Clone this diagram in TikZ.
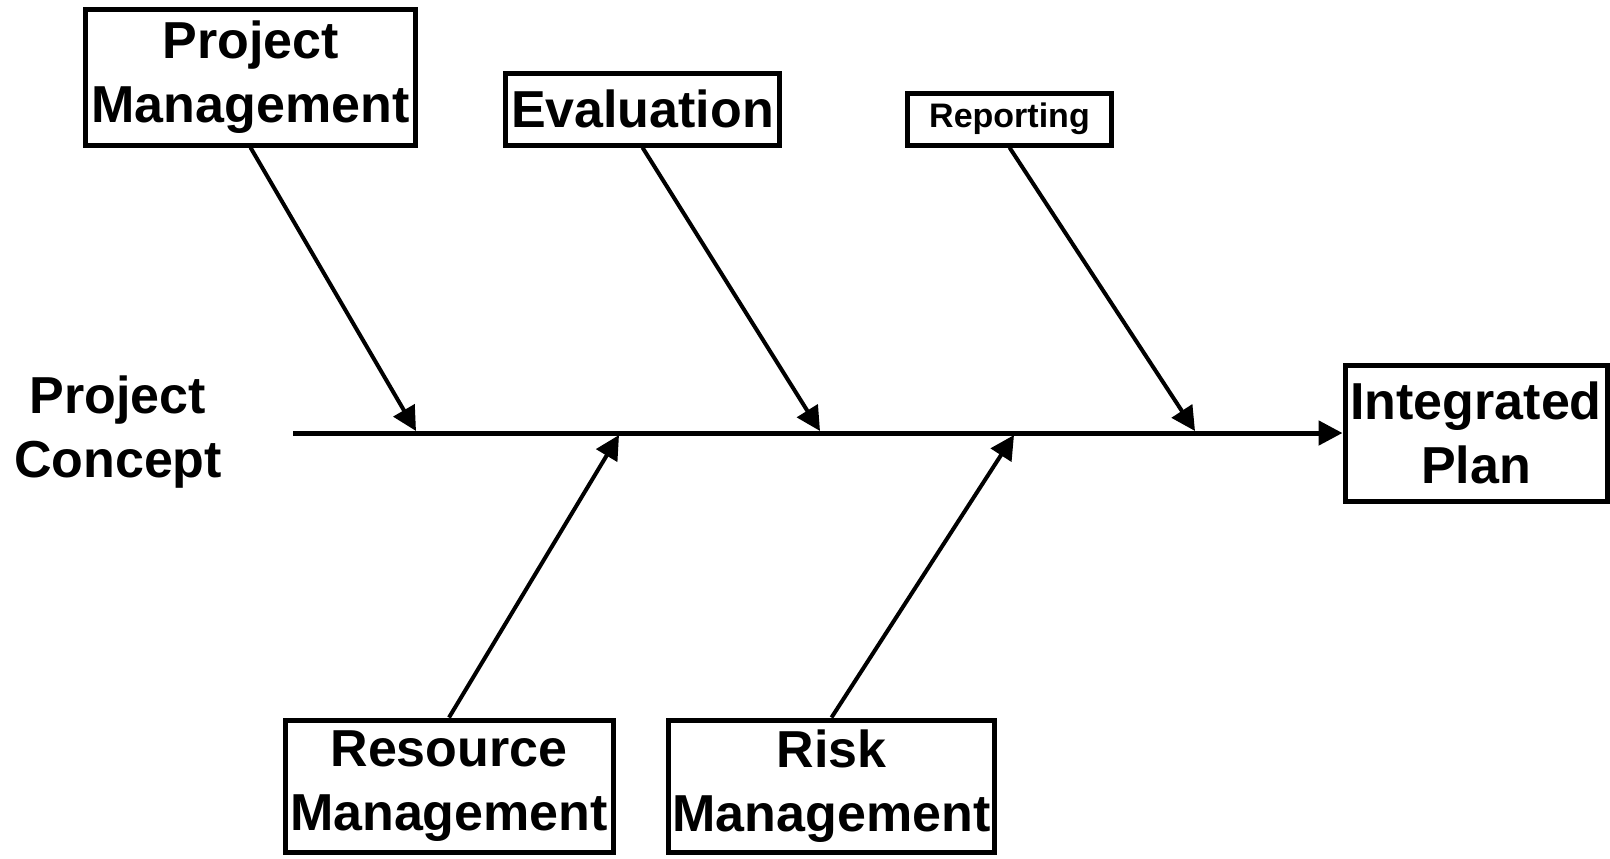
\documentclass[tikz,border=0pt]{standalone}
\usepackage{fontspec}
\setmainfont{Liberation Sans}
\usepackage{tikz}
\usetikzlibrary{arrows.meta}
\tikzset{
	causebox/.style={rectangle, draw=black, line width=2.5pt, inner sep=0pt, align=center, font=\fontsize{26}{32}\selectfont\bfseries},
	smallbox/.style={rectangle, draw=black, line width=2.5pt, inner sep=0pt, align=center, font=\fontsize{17}{20}\selectfont\bfseries},
	bone/.style={line width=2pt, -{Triangle[length=12pt,width=12pt]}}
}

\begin{document}
\begin{tikzpicture}[x=0.5pt,y=-0.5pt]
		\useasboundingbox (0,0) rectangle (1610,858);
		
		\node[causebox, minimum width=165pt, minimum height=68pt] at (250.5,77) (pm)    {Project\\Management};
		\node[causebox, minimum width=137pt, minimum height=36pt] at (642.5,109) (eval)    {Evaluation};
		\node[smallbox, minimum width=102pt, minimum height=26pt] at (1009.5,119) (rep)    {Reporting};
		\node[causebox, minimum width=164pt, minimum height=66pt] at (449,786) (res)    {Resource\\Management};
		\node[causebox, minimum width=163pt, minimum height=66pt] at (831.5,786) (risk)    {Risk\\Management};
		\node[causebox, minimum width=131pt, minimum height=68pt] at (1476,433) (plan)    {Integrated\\Plan};
		\node[causebox, draw=none] at (118,432) (concept)    {Project\\Concept};
		
		%\node[align=center] at (293,433) (tail) {};
		\coordinate (tail) at (293,433);
		\coordinate (pmj) at (416,431);
		\coordinate (evalj) at (820,431);
		\coordinate (repj) at (1195,431);
		\coordinate (resj) at (619,435);
		\coordinate (riskj) at (1014,435);
		
		\draw[bone, line width=2.5pt] (tail) -- (plan.west); 
		\draw[bone] (pm.south) -- (pmj); 
		\draw[bone] (eval.south) -- (evalj); 
		\draw[bone] (rep.south) -- (repj); 
		\draw[bone] (res.north) -- (resj); 
		\draw[bone] (risk.north) -- (riskj); 
	\end{tikzpicture}
\end{document}
